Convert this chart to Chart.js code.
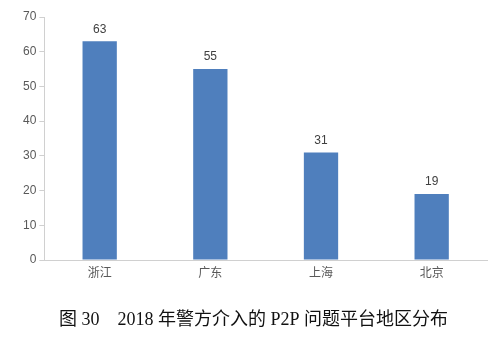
<!DOCTYPE html>
<html>
<head>
<meta charset="utf-8">
<script src="https://cdn.jsdelivr.net/npm/chart.js@4.4.0/dist/chart.umd.min.js"></script>
<style>
  html, body { margin: 0; padding: 0; background: #fff; }
  #wrap { width: 500px; height: 351px; }
</style>
</head>
<body>
<div id="wrap"><canvas id="chart" width="500" height="351"></canvas></div>
<script>
'use strict';

var regions = ['浙江', '广东', '上海', '北京'];
var counts = [63, 55, 31, 19];
var titleText = '图 30　2018 年警方介入的 P2P 问题平台地区分布';

// value labels above bars
var barLabels = {
    id: 'barLabels',
    afterDatasetsDraw: function(chart) {
        var ctx = chart.ctx;
        var meta = chart.getDatasetMeta(0);
        ctx.save();
        ctx.font = '12px "Liberation Sans", Arial, sans-serif';
        ctx.fillStyle = '#404040';
        ctx.textAlign = 'center';
        ctx.textBaseline = 'bottom';
        meta.data.forEach(function(bar, i) {
            ctx.fillText(String(counts[i]), bar.x, bar.y - 6);
        });
        ctx.restore();
    }
};

new Chart(document.getElementById('chart'), {
    type: 'bar',
    data: {
        labels: regions,
        datasets: [{
            data: counts,
            backgroundColor: '#4f7fbd',
            categoryPercentage: 1,
            barPercentage: 0.31
        }]
    },
    options: {
        responsive: false,
        animation: false,
        layout: { padding: { left: 20, right: 13, top: 17, bottom: 4 } },
        plugins: {
            legend: { display: false },
            tooltip: { enabled: false },
            title: {
                display: true,
                position: 'bottom',
                text: titleText,
                color: '#111',
                font: { family: '"Liberation Serif", "Noto Sans CJK SC", serif', size: 18, weight: 'normal' },
                padding: { top: 25, bottom: 16 }
            }
        },
        scales: {
            x: {
                grid: { display: false, drawTicks: false },
                border: { color: '#d0d0d0' },
                ticks: {
                    color: '#595959',
                    padding: 5,
                    font: { family: '"Noto Sans CJK SC", sans-serif', size: 12 }
                }
            },
            y: {
                min: 0,
                max: 70,
                grid: { drawOnChartArea: false, tickLength: 5, color: '#d0d0d0' },
                border: { color: '#d0d0d0' },
                ticks: {
                    stepSize: 10,
                    color: '#595959',
                    padding: 3,
                    font: { family: '"Liberation Sans", Arial, sans-serif', size: 12 }
                }
            }
        }
    },
    plugins: [barLabels]
});
</script>
</body>
</html>
